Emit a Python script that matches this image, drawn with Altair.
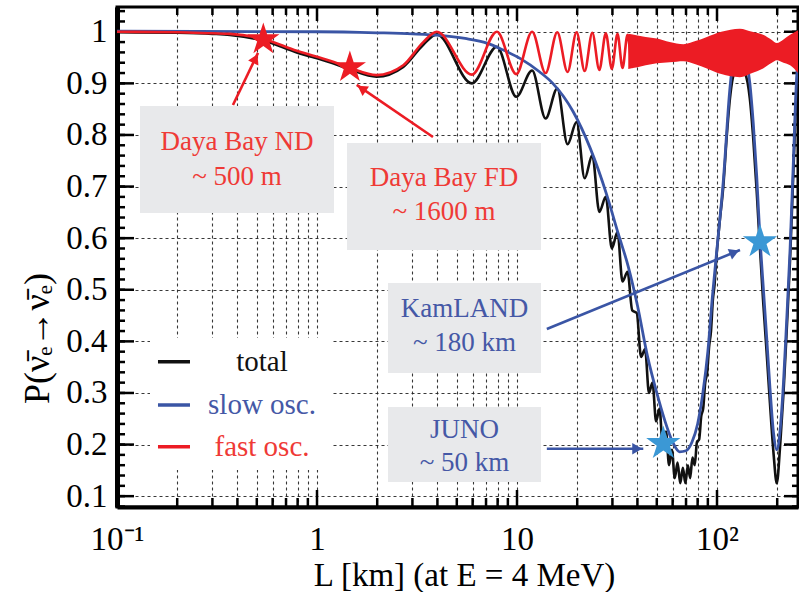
import altair as alt
import pandas as pd

FONT = "Liberation Serif"
RED = "#ec1c24"
BLUE = "#3a55a5"
BLACK = "#111111"
STARBLUE = "#3b98d5"
BOXGREY = "#e8e9eb"
TXTRED = "#ef3a36"
TXTBLUE = "#4558a6"

# ---- curves (L in km, P) ----
slow_L = [0.1, 1, 2, 3, 4.12, 5.5, 7.08, 8.5, 10.4, 13, 15.1, 19.1, 23.2, 28.1, 32, 36, 40, 45, 50, 55,
          60, 65, 70, 75, 80, 85, 90, 95, 100, 107.5, 116, 122, 130, 138, 146, 152, 158, 164, 170, 177,
          184, 192, 199, 207, 215, 223, 232, 241, 250, 257]
slow_P = [1.001, 1.0, 0.998, 0.996, 0.993, 0.987, 0.978, 0.965, 0.948, 0.922, 0.90, 0.845, 0.775, 0.684, 0.61, 0.545, 0.47, 0.37, 0.30, 0.245,
          0.205, 0.186, 0.188, 0.205, 0.24, 0.30, 0.38, 0.49, 0.58, 0.71, 0.89, 0.96, 0.995, 0.96, 0.90, 0.82, 0.72, 0.60, 0.51, 0.41,
          0.31, 0.22, 0.19, 0.23, 0.32, 0.44, 0.58, 0.75, 0.91, 0.97]

total_L = [0.1, 0.2, 0.3, 0.367, 0.539, 0.792, 1.16, 1.46, 1.985, 2.7, 3.4, 3.97,
           5.95, 7.94, 9.92, 11.9, 13.9, 15.9, 17.9, 19.85, 21.8, 23.8, 25.8, 27.8, 29.8, 31.8, 33.7, 35.7,
           37.7, 39.7, 41.7, 43.7, 45.7, 47.6, 49.6, 51.6, 53.6, 55.6, 57.6, 59.5, 61.5, 63.5, 65.5, 67.5,
           69.5, 71.5, 73.4, 75.4, 77.4, 79.4, 81.4, 83.4, 85.3, 87.3, 89.3, 91.3, 93.3, 95.3, 97.2, 99.2,
           103, 107.5, 112, 116, 122, 130, 138, 146, 152, 158, 164, 170, 177, 184, 192, 199, 207, 215, 223,
           232, 241, 250, 257]
total_P = [0.999, 0.998, 0.996, 0.994, 0.983, 0.96, 0.941, 0.927, 0.913, 0.932, 0.975, 0.995,
           0.90, 0.971, 0.874, 0.925, 0.832, 0.89, 0.782, 0.825, 0.716, 0.761, 0.651, 0.68, 0.58, 0.612, 0.516, 0.535,
           0.46, 0.455, 0.37, 0.385, 0.30, 0.32, 0.245, 0.27, 0.195, 0.225, 0.16, 0.19, 0.135, 0.165, 0.125, 0.155,
           0.125, 0.16, 0.135, 0.175, 0.16, 0.205, 0.21, 0.255, 0.27, 0.32, 0.34, 0.39, 0.42, 0.48, 0.51, 0.56,
           0.63, 0.70, 0.80, 0.87, 0.92, 0.93, 0.92, 0.87, 0.79, 0.69, 0.58, 0.48, 0.38, 0.28, 0.18, 0.125, 0.20, 0.30, 0.42,
           0.56, 0.73, 0.89, 0.95]

fast_L = [0.1, 0.2, 0.3, 0.367, 0.539, 0.792, 1.16, 1.46, 1.985, 2.7, 3.4, 3.97,
          5.95, 7.94, 9.92, 11.9, 13.9, 15.9, 17.9, 19.85, 21.8, 23.8, 25.8, 27.8, 29.8, 31.8, 33.7, 35.7, 37.7, 39.7]
fast_P = [1.0, 0.999, 0.997, 0.996, 0.986, 0.963, 0.944, 0.930, 0.916, 0.935, 0.98, 1.0,
          0.917, 1.0, 0.918, 1.0, 0.92, 0.999, 0.922, 0.999, 0.924, 0.998, 0.926, 0.997, 0.928, 0.996, 0.93, 0.994, 0.932, 0.99]

# envelope of the dense fast oscillation
band_L = [36, 40, 44, 50, 58, 68, 78, 89, 105, 130, 150, 170, 188, 199, 215, 232, 257]
band_top = [0.996, 0.993, 0.99, 0.987, 0.98, 0.976, 0.982, 0.99, 1.0, 1.006, 1.0, 0.994, 0.984, 0.978, 0.985, 0.994, 1.004]
band_bot = [0.928, 0.931, 0.935, 0.939, 0.941, 0.943, 0.937, 0.929, 0.918, 0.912, 0.92, 0.929, 0.94, 0.945, 0.94, 0.935, 0.918]

# ---- experiments ----
star_names = ["Daya Bay ND", "Daya Bay FD", "KamLAND", "JUNO"]
star_L = [0.539, 1.46, 164, 53.9]
star_P = [0.985, 0.931, 0.593, 0.202]
star_color = [RED, RED, STARBLUE, STARBLUE]
star_size = [1150, 1150, 1300, 1300]

box_L1 = [0.1303, 1.413, 2.265, 2.265]
box_L2 = [1.216, 13.18, 13.18, 13.18]
box_P1 = [0.6486, 0.577, 0.3386, 0.1273]
box_P2 = [0.856, 0.7843, 0.513, 0.2727]

label_text = ["Daya Bay ND", "~ 500 m", "Daya Bay FD", "~ 1600 m", "KamLAND", "~ 180 km", "JUNO", "~ 50 km"]
label_L = [0.398, 0.398, 4.315, 4.315, 5.464, 5.464, 5.464, 5.464]
label_P = [0.786, 0.7184, 0.7165, 0.650, 0.462, 0.396, 0.228, 0.1636]
label_color = [TXTRED, TXTRED, TXTRED, TXTRED, TXTBLUE, TXTBLUE, TXTBLUE, TXTBLUE]

arrow_L1 = [0.380, 3.80, 14.1, 14.1]
arrow_P1 = [0.858, 0.796, 0.424, 0.192]
arrow_L2 = [0.507, 1.58, 130.3, 42.8]
arrow_P2 = [0.959, 0.897, 0.577, 0.192]
head_L = [0.492, 1.673, 122.2, 39.9]
head_P = [0.948, 0.890, 0.5725, 0.192]
head_angle = [25.7, 304.3, 67.8, 90]
arrow_color = [RED, RED, BLUE, BLUE]

legend_names = ["total", "slow osc.", "fast osc."]
legend_colors = [BLACK, BLUE, RED]
legend_txtcolors = ["#111111", TXTBLUE, TXTRED]
legend_P = [0.3605, 0.2766, 0.1957]

# ---- axes ticks ----
y_major = [round(0.1 * i, 1) for i in range(1, 11)]
y_minor = [round(0.02 * i, 2) for i in range(4, 53)]
x_major = [0.1, 1, 10, 100]
x_minor = [0.2, 0.3, 0.4, 0.5, 0.6, 0.7, 0.8, 0.9, 2, 3, 4, 5, 6, 7, 8, 9,
           20, 30, 40, 50, 60, 70, 80, 90, 200]
x_grid = [0.1, 0.2, 0.3, 0.4, 0.5, 0.6, 0.7, 0.8, 0.9, 1, 2, 3, 4, 5, 6, 7, 8, 9,
          10, 20, 30, 40, 50, 60, 70, 80, 90, 100, 200]

W, H = 681, 500
xs = alt.Scale(type="log", domain=[0.1, 254.1], nice=False)
ys = alt.Scale(domain=[0.079, 1.048], nice=False, zero=False)

GRID = dict(grid=True, gridColor="#222222", gridDash=[3, 3], gridWidth=1.1, gridOpacity=0.9)

xaxis = alt.Axis(values=x_grid, ticks=False, domain=True, domainColor="black", domainWidth=4,
                 labelExpr="datum.value == 0.1 ? '10⁻¹' : datum.value == 1 ? '1' : datum.value == 10 ? '10' : datum.value == 100 ? '10²' : ''",
                 labelFont=FONT, labelFontSize=33, labelColor="black", labelPadding=16,
                 labelOverlap=False, labelFlush=False,
                 title="L [km] (at E = 4 MeV)", titleFont=FONT, titleFontSize=33, titleFontWeight="normal",
                 titleColor="black", titleX=347, titleY=68, titleAlign="center", titleBaseline="middle",
                 **GRID)
yaxis = alt.Axis(values=y_major, format=".1~f", ticks=False, domain=True, domainColor="black", domainWidth=5,
                 labelFont=FONT, labelFontSize=33, labelColor="black", labelPadding=10,
                 labelOverlap=False, labelFlush=False,
                 title="P(ν̄ₑ→ν̄ₑ)", titleFont=FONT, titleFontSize=36, titleFontWeight="normal",
                 titleColor="black", titleAngle=270, titleX=-80, titleY=331, titleAlign="center",
                 titleBaseline="middle", **GRID)

slow_df = pd.DataFrame({"L": slow_L, "P": slow_P})
total_df = pd.DataFrame({"L": total_L, "P": total_P})
fast_df = pd.DataFrame({"L": fast_L, "P": fast_P})
band_df = pd.DataFrame({"L": band_L, "top": band_top, "bot": band_bot})
star_df = pd.DataFrame({"name": star_names, "L": star_L, "P": star_P, "c": star_color, "s": star_size})
box_df = pd.DataFrame({"L1": box_L1, "L2": box_L2, "P1": box_P1, "P2": box_P2})
lab_df = pd.DataFrame({"t": label_text, "L": label_L, "P": label_P, "c": label_color})
arr_df = pd.DataFrame({"L1": arrow_L1, "P1": arrow_P1, "L2": arrow_L2, "P2": arrow_P2, "c": arrow_color})
head_df = pd.DataFrame({"L": head_L, "P": head_P, "a": head_angle, "c": arrow_color})
leg_df = pd.DataFrame({"t": legend_names, "P": legend_P, "c": legend_colors, "tc": legend_txtcolors,
                       "L1": [0.1603] * 3, "L2": [0.2317] * 3, "Lt": [0.531] * 3})
legbox_df = pd.DataFrame({"L1": [0.1462], "L2": [1.202], "P1": [0.1508], "P2": [0.4064]})

X = lambda f: alt.X(f, type="quantitative", scale=xs, axis=xaxis)
Y = lambda f: alt.Y(f, type="quantitative", scale=ys, axis=yaxis)

boxes = alt.Chart(box_df).mark_rect(color=BOXGREY).encode(
    x=X("L1"), x2="L2", y=Y("P1"), y2="P2")
legbox = alt.Chart(legbox_df).mark_rect(color="white").encode(
    x=X("L1"), x2="L2", y=Y("P1"), y2="P2")

tick_layers = []
for vals, x0, x1 in [(y_minor, 0, 8), (y_major, 0, 17), (y_minor, W - 6, W), (y_major, W - 14, W)]:
    tick_layers.append(alt.Chart(pd.DataFrame({"v": vals})).mark_rule(color="black", strokeWidth=2.5).encode(
        y=Y("v"), x=alt.value(x0), x2=alt.value(x1)))
for vals, y0, y1 in [(x_minor, H, H - 9), (x_major, H, H - 17), (x_minor, 0, 8), (x_major, 0, 14)]:
    tick_layers.append(alt.Chart(pd.DataFrame({"v": vals})).mark_rule(color="black", strokeWidth=2.5).encode(
        x=X("v"), y=alt.value(y0), y2=alt.value(y1)))

total_line = alt.Chart(total_df).mark_line(color=BLACK, strokeWidth=2.6, interpolate="monotone", clip=True).encode(
    x=X("L"), y=Y("P"))
slow_line = alt.Chart(slow_df).mark_line(color=BLUE, strokeWidth=2.8, interpolate="monotone", clip=True).encode(
    x=X("L"), y=Y("P"))
fast_line = alt.Chart(fast_df).mark_line(color=RED, strokeWidth=2.6, interpolate="monotone", clip=True).encode(
    x=X("L"), y=Y("P"))
fast_band = alt.Chart(band_df).mark_area(color=RED, interpolate="monotone", clip=True).encode(
    x=X("L"), y=Y("top"), y2="bot")

arrows = alt.Chart(arr_df).mark_rule(strokeWidth=2.6).encode(
    x=X("L1"), x2="L2", y=Y("P1"), y2="P2", color=alt.Color("c:N", scale=None))
heads = alt.Chart(head_df).mark_point(shape="triangle-up", filled=True, size=130, opacity=1).encode(
    x=X("L"), y=Y("P"), angle=alt.Angle("a:Q", scale=None), color=alt.Color("c:N", scale=None))

STAR = ("M0,-1L0.2245,-0.309L0.9511,-0.309L0.3633,0.118L0.5878,0.809L0,0.382"
        "L-0.5878,0.809L-0.3633,0.118L-0.9511,-0.309L-0.2245,-0.309Z")
stars = alt.Chart(star_df).mark_point(shape=STAR, filled=True, opacity=1, strokeWidth=0).encode(
    x=X("L"), y=Y("P"), color=alt.Color("c:N", scale=None), size=alt.Size("s:Q", scale=None))

labels = alt.Chart(lab_df).mark_text(font=FONT, fontSize=27, align="center", baseline="middle").encode(
    x=X("L"), y=Y("P"), text="t:N", color=alt.Color("c:N", scale=None))

leg_lines = alt.Chart(leg_df).mark_rule(strokeWidth=3.5).encode(
    x=X("L1"), x2="L2", y=Y("P"), color=alt.Color("c:N", scale=None))
leg_text = alt.Chart(leg_df).mark_text(font=FONT, fontSize=29, align="center", baseline="middle").encode(
    x=X("Lt"), y=Y("P"), text="t:N", color=alt.Color("tc:N", scale=None))

chart = alt.layer(
    boxes, legbox, *tick_layers, total_line, slow_line, fast_line, fast_band,
    arrows, heads, stars, labels, leg_lines, leg_text
).properties(
    width=W, height=H,
    autosize=alt.AutoSizeParams(type="none"),
    padding={"left": 117, "top": 7, "right": 1, "bottom": 85},
    background="white",
).configure_view(stroke="black", strokeWidth=3)

chart.save("out.html", embed_options={"renderer": "svg", "actions": False})
